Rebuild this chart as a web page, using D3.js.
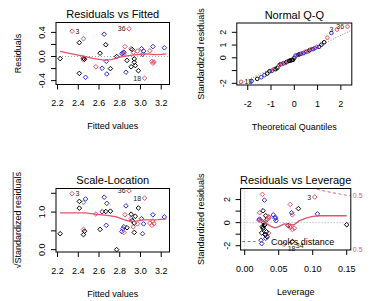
<!DOCTYPE html>
<html><head><meta charset="utf-8">
<script src="https://cdn.jsdelivr.net/npm/d3@7"></script>
<style>body{margin:0;background:#fff}svg{display:block;font-family:"Liberation Sans",Arial,sans-serif}</style>
</head><body><svg id="c" width="370" height="301"></svg>
<script>
// ---------- data (observations 1..45) ----------
const obsGroup = ["k","r","r","b","k","k","r","k","r","b","b","k","b","b","k","r","r","r","k","b","b","b","r","b","b","k","b","r","r","k","k","k","k","k","b","r","r","k","r","k","b","r","k","b","r"];
const fitted = [2.61,2.45,2.34,2.65,2.665,2.225,2.45,2.46,2.57,2.63,2.67,2.41,2.47,2.675,2.71,2.85,2.91,3.04,2.92,3.01,3.12,3.23,2.93,2.82,2.83,2.77,3.02,3.11,3.12,2.87,2.94,2.91,2.98,2.41,2.86,2.89,2.97,2.94,3.09,2.95,2.84,2.84,2.45,3.03,3.13];
const resid = [0.055,0.295,0.42,0.37,0.195,-0.035,-0.055,-0.045,-0.17,-0.195,-0.08,0.23,-0.345,-0.29,-0.2,0.165,0.13,-0.36,0.115,0.13,0.165,0.145,0.07,0.045,0.06,0.0,0.035,-0.08,-0.11,-0.065,-0.095,-0.17,-0.235,-0.28,-0.26,0.46,0.09,-0.04,0.095,-0.15,0.07,0.04,-0.03,0.09,-0.09];
const stdRes = [0.29,1.58,2.22,1.95,1.03,-0.18,-0.29,-0.24,-0.90,-1.02,-0.42,1.22,-1.82,-1.52,-1.05,0.86,0.68,-1.88,0.60,0.68,0.86,0.76,0.37,0.23,0.31,0.00,0.18,-0.42,-0.58,-0.34,-0.50,-0.89,-1.23,-1.65,-1.36,2.45,0.47,-0.21,0.50,-0.79,0.37,0.21,-0.16,0.47,-0.48];
const leverage = [0.033,0.067,0.103,0.029,0.027,0.150,0.067,0.064,0.035,0.031,0.027,0.079,0.025,0.024,0.030,0.022,0.070,0.058,0.031,0.042,0.069,0.107,0.035,0.021,0.022,0.028,0.046,0.067,0.070,0.026,0.027,0.025,0.033,0.070,0.031,0.026,0.036,0.029,0.035,0.032,0.045,0.024,0.030,0.045,0.073];
const qqTheory = [-2.287,-1.834,-1.593,-1.420,-1.282,-1.164,-1.061,-0.967,-0.882,-0.803,-0.728,-0.657,-0.589,-0.524,-0.462,-0.400,-0.341,-0.282,-0.225,-0.168,-0.112,-0.056,0,0.056,0.112,0.168,0.225,0.282,0.341,0.400,0.462,0.524,0.589,0.657,0.728,0.803,0.882,0.967,1.061,1.164,1.282,1.420,1.593,1.834,2.287];
const labelIds = [3,18,36];
const cookLabelIds = [3,18,34];
// smoother curves
const smoothRFx = [2.225,2.35,2.45,2.55,2.65,2.72,2.8,2.9,3.0,3.06,3.13,3.2,3.25];
const smoothRFy = [0.085,0.04,0.005,-0.035,-0.06,-0.05,-0.01,0.02,0.035,0.045,0.03,0.035,0.045];
const smoothSLx = [2.225,2.35,2.47,2.58,2.68,2.77,2.84,2.9,2.96,3.03,3.1,3.17,3.25];
const smoothSLy = [0.98,0.98,0.98,0.94,0.91,0.87,0.8,0.75,0.76,0.79,0.79,0.8,0.82];
const smoothRLx = [0.021,0.03,0.038,0.044,0.05,0.058,0.066,0.072,0.08,0.09,0.1,0.11,0.13,0.15];
const smoothRLy = [0.3,0.0,-0.3,-0.45,-0.35,-0.1,-0.15,-0.2,0.15,0.4,0.55,0.6,0.6,0.6];
// tick values
const ticksFitted = [2.2,2.4,2.6,2.8,3.0,3.2];
const ticksResid = [-0.4,-0.2,0,0.2,0.4];
const labResid = {"-0.4":"-0.4","0":"0.0","0.4":"0.4"};
const ticksQQx = [-2,-1,0,1,2];
const ticksQQy = [-2,-1,0,1,2];
const labQQy = {"-2":"-2","0":"0","1":"1","2":"2"};
const ticksSL = [0,0.5,1,1.5];
const labSL = {"0":"0.0","1":"1.0"};
const ticksLev = [0,0.05,0.1,0.15];
const ticksRL = [-2,-1,0,1,2];
const labRL = {"-2":"-2","0":"0","2":"2"};
const cookLevel = 0.5, nParam = 2;

// ---------- drawing ----------
const svg = d3.select("#c");
svg.append("rect").attr("width",370).attr("height",301).attr("fill","#fff");
const COL = {k:"#000000", r:"#DF536B", b:"#2b2bd8"};
const RED = "#DF536B";
const n = fitted.length;
const obs = d3.range(n).map(i => ({id:i+1, g:obsGroup[i], fit:fitted[i], res:resid[i], std:stdRes[i], lev:leverage[i]}));

function panel(cfg){
  const g = svg.append("g");
  const b = cfg.box;
  const x = d3.scaleLinear().domain(cfg.xDomain).range([b.x0,b.x1]);
  const y = d3.scaleLinear().domain(cfg.yDomain).range([b.y1,b.y0]);
  const cid = "clip"+cfg.key;
  svg.append("clipPath").attr("id",cid).append("rect").attr("x",b.x0).attr("y",b.y0).attr("width",b.x1-b.x0).attr("height",b.y1-b.y0);
  cfg.xTicks.forEach(t=>{
    g.append("line").attr("x1",x(t)).attr("x2",x(t)).attr("y1",b.y1).attr("y2",b.y1+5).attr("stroke","#000");
    g.append("text").attr("x",x(t)).attr("y",b.y1+21.5).attr("text-anchor","middle").attr("font-size",9).text(cfg.xFmt(t));
  });
  cfg.yTicks.forEach(t=>{
    g.append("line").attr("x1",b.x0-5).attr("x2",b.x0).attr("y1",y(t)).attr("y2",y(t)).attr("stroke","#000");
    const lab = cfg.yLab[String(t)];
    if(lab!==undefined) g.append("text").attr("transform",`translate(${b.x0-14},${y(t)}) rotate(-90)`).attr("text-anchor","middle").attr("dominant-baseline","central").attr("font-size",9).text(lab);
  });
  g.append("text").attr("x",(b.x0+b.x1)/2).attr("y",b.y0-4.5).attr("text-anchor","middle").attr("font-size",11).text(cfg.title);
  g.append("text").attr("x",(b.x0+b.x1)/2).attr("y",b.y1+44.5).attr("text-anchor","middle").attr("font-size",9).text(cfg.xTitle);
  const yt = g.append("text").attr("transform",`translate(${cfg.yTitleX},${(b.y0+b.y1)/2}) rotate(-90)`).attr("text-anchor","middle").attr("dominant-baseline","central").attr("font-size",9).text(cfg.yTitle);
  const inner = g.append("g").attr("clip-path",`url(#${cid})`);
  const frame = ()=>g.append("rect").attr("x",b.x0).attr("y",b.y0).attr("width",b.x1-b.x0).attr("height",b.y1-b.y0).attr("fill","none").attr("stroke","#000");
  return {g, inner, x, y, b, yt, frame};
}
function diamond(sel, px, py, c){
  const r=2.3;
  sel.append("path").attr("d",`M${px},${py-r}L${px+r},${py}L${px},${py+r}L${px-r},${py}Z`).attr("fill","none").attr("stroke",c).attr("stroke-width",1);
}
function idLabel(sel, px, py, text, right, dy){
  sel.append("text").attr("x",right?px+3.5:px-3.5).attr("y",py+(dy||0)).attr("text-anchor",right?"start":"end")
    .attr("dominant-baseline","central").attr("font-size",7).attr("fill","#222").text(text);
}
const fmt1 = d=>d3.format(".1f")(d);
const line = d3.line();

// Panel 1: Residuals vs Fitted
{
  const p = panel({key:1, box:{x0:56,x1:169.5,y0:22.5,y1:84.5}, xDomain:[2.185,3.28], yDomain:[-0.464,0.564],
    xTicks:ticksFitted, xFmt:fmt1, yTicks:ticksResid, yLab:labResid, title:"Residuals vs Fitted", xTitle:"Fitted values", yTitle:"Residuals", yTitleX:17.5});
  p.inner.append("line").attr("x1",p.b.x0).attr("x2",p.b.x1).attr("y1",p.y(0)).attr("y2",p.y(0)).attr("stroke","#aaa").attr("stroke-dasharray","1,2");
  obs.forEach(o=>diamond(p.inner,p.x(o.fit),p.y(o.res),COL[o.g]));
  p.inner.append("path").attr("d",line(smoothRFx.map((v,i)=>[p.x(v),p.y(smoothRFy[i])]))).attr("fill","none").attr("stroke",RED).attr("stroke-width",1.3);
  const mid=(2.185+3.28)/2;
  obs.filter(o=>labelIds.includes(o.id)).forEach(o=>idLabel(p.g,p.x(o.fit),p.y(o.res),o.id,o.fit<mid));
  p.frame();
}
// Panel 2: Normal Q-Q
{
  const p = panel({key:2, box:{x0:236.8,x1:351.8,y0:23,y1:85}, xDomain:[-2.47,2.47], yDomain:[-2.13,2.73],
    xTicks:ticksQQx, xFmt:d=>String(d), yTicks:ticksQQy, yLab:labQQy, title:"Normal Q-Q", xTitle:"Theoretical Quantiles", yTitle:"Standardized residuals", yTitleX:200.5});
  const sorted = obs.slice().sort((a,b)=>a.std-b.std);
  const q1 = d3.quantile(sorted.map(o=>o.std),0.25), q3 = d3.quantile(sorted.map(o=>o.std),0.75);
  const z = 0.6745, slope=(q3-q1)/(2*z), icpt=q1+slope*z;
  p.inner.append("line").attr("x1",p.x(-2.47)).attr("x2",p.x(2.47)).attr("y1",p.y(icpt-2.47*slope)).attr("y2",p.y(icpt+2.47*slope)).attr("stroke","#888").attr("stroke-dasharray","1,1.6");
  sorted.forEach((o,i)=>p.inner.append("circle").attr("cx",p.x(qqTheory[i])).attr("cy",p.y(o.std)).attr("r",1.8).attr("fill","none").attr("stroke",COL[o.g]).attr("stroke-width",1));
  sorted.forEach((o,i)=>{ if(labelIds.includes(o.id)) idLabel(p.g,p.x(qqTheory[i]),p.y(o.std),o.id,qqTheory[i]<0); });
  p.frame();
}
// Panel 3: Scale-Location
{
  const p = panel({key:3, box:{x0:56,x1:169.5,y0:188.5,y1:252}, xDomain:[2.185,3.28], yDomain:[-0.063,1.628],
    xTicks:ticksFitted, xFmt:fmt1, yTicks:ticksSL, yLab:labSL, title:"Scale-Location", xTitle:"Fitted values", yTitle:"\u221AStandardized residuals", yTitleX:18});
  const L = p.yt.node().getComputedTextLength();
  const cy=(188.5+252)/2, sw=5.2;
  p.g.append("line").attr("x1",13.2).attr("x2",13.2).attr("y1",cy+L/2-sw).attr("y2",cy-L/2).attr("stroke","#000").attr("stroke-width",0.7);
  obs.forEach(o=>diamond(p.inner,p.x(o.fit),p.y(Math.sqrt(Math.abs(o.std))),COL[o.g]));
  p.inner.append("path").attr("d",line(smoothSLx.map((v,i)=>[p.x(v),p.y(smoothSLy[i])]))).attr("fill","none").attr("stroke",RED).attr("stroke-width",1.3);
  const mid=(2.185+3.28)/2;
  obs.filter(o=>labelIds.includes(o.id)).forEach(o=>idLabel(p.g,p.x(o.fit),p.y(Math.sqrt(Math.abs(o.std))),o.id,o.fit<mid));
  p.frame();
}
// Panel 4: Residuals vs Leverage
{
  const p = panel({key:4, box:{x0:240.6,x1:350.8,y0:188.5,y1:250}, xDomain:[-0.006,0.156], yDomain:[-2.37,2.96],
    xTicks:ticksLev, xFmt:d=>d3.format(".2f")(d), yTicks:ticksRL, yLab:labRL, title:"Residuals vs Leverage", xTitle:"Leverage", yTitle:"Standardized residuals", yTitleX:200.5});
  p.inner.append("line").attr("x1",p.b.x0).attr("x2",p.b.x1).attr("y1",p.y(0)).attr("y2",p.y(0)).attr("stroke","#aaa").attr("stroke-dasharray","1,2");
  p.inner.append("line").attr("x1",p.x(0)).attr("x2",p.x(0)).attr("y1",p.b.y0).attr("y2",p.b.y1).attr("stroke","#bbb").attr("stroke-dasharray","1,2");
  obs.forEach(o=>diamond(p.inner,p.x(o.lev),p.y(o.std),COL[o.g]));
  p.inner.append("path").attr("d",line(smoothRLx.map((v,i)=>[p.x(v),p.y(smoothRLy[i])]))).attr("fill","none").attr("stroke",RED).attr("stroke-width",1.3);
  const hs = d3.range(0.004,0.1565,0.0015);
  [1,-1].forEach(s=>{
    p.inner.append("path").attr("d",line(hs.map(h=>[p.x(h),p.y(s*Math.sqrt(cookLevel*nParam*(1-h)/h))]))).attr("fill","none").attr("stroke",RED).attr("stroke-dasharray","3,2.5");
    const hE=0.156;
    p.g.append("text").attr("x",p.b.x1+2).attr("y",p.y(s*Math.sqrt(cookLevel*nParam*(1-hE)/hE))).attr("dominant-baseline","central").attr("font-size",7).attr("fill",RED).text(String(cookLevel));
  });
  const mid=0.075;
  obs.filter(o=>cookLabelIds.includes(o.id)).forEach(o=>idLabel(p.g,p.x(o.lev),p.y(o.std),o.id,o.lev<mid,o.std<0?4:0));
  const ly = 241.5;
  p.g.append("line").attr("x1",p.b.x0+1.5).attr("x2",p.b.x0+15).attr("y1",ly).attr("y2",ly).attr("stroke",RED).attr("stroke-dasharray","3,2.5");
  p.g.append("text").attr("x",271).attr("y",ly).attr("dominant-baseline","central").attr("font-size",9).text("Cook's distance");
  p.frame();
}
</script></body></html>
